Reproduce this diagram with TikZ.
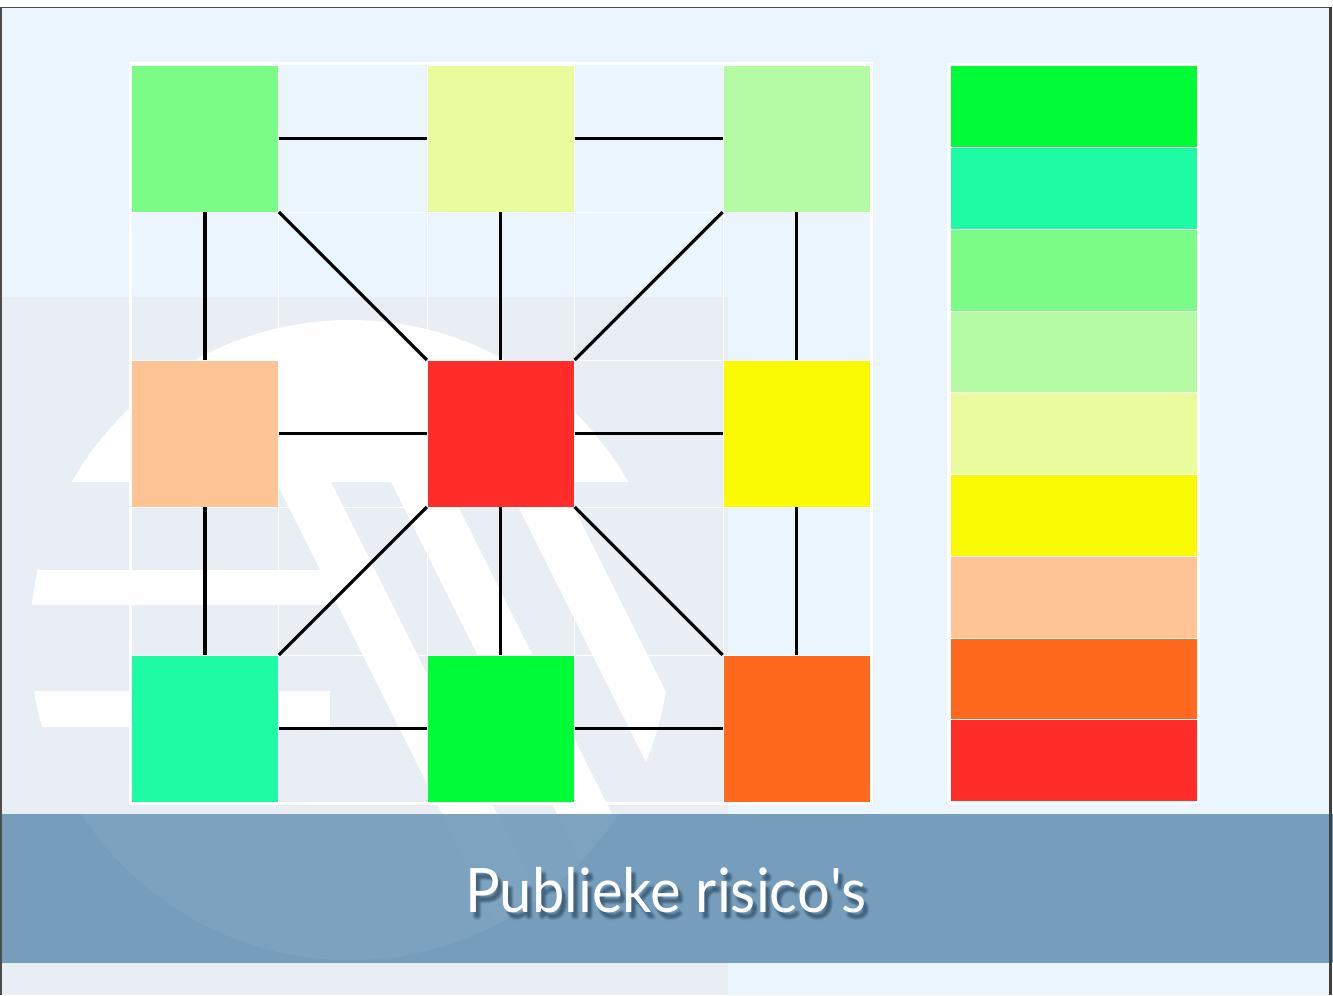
\documentclass[tikz,border=0pt]{standalone}
\usepackage{fontspec}
\setmainfont{Lato}
\definecolor{bgblue}{HTML}{EBF5FE}
\definecolor{graybg}{HTML}{E8EEF3}
\definecolor{titlebar}{HTML}{6E98B8}
\definecolor{shadowc}{HTML}{1E3A52}
\definecolor{cTL}{HTML}{7AFC86}
\definecolor{cTM}{HTML}{E8FC9E}
\definecolor{cTR}{HTML}{B5FBA3}
\definecolor{cML}{HTML}{FFC496}
\definecolor{cC}{HTML}{FF2C2A}
\definecolor{cMR}{HTML}{FAFA05}
\definecolor{cBL}{HTML}{1DFCA4}
\definecolor{cBM}{HTML}{00FC36}
\definecolor{cBR}{HTML}{FF691E}
\newcommand{\titletext}{\scalebox{0.945}[1]{Publieke risico\textquotesingle s}}
\begin{document}
\begin{tikzpicture}[x=0.75pt,y=-0.75pt,
  box/.style={draw=white, line width=0.5pt, inner sep=0pt, minimum width=110.25pt, minimum height=110.25pt},
  link/.style={line width=2.35pt, black},
  gridline/.style={white, line width=0.75pt},
  legendbar/.style={draw=white, line width=0.75pt, inner sep=0pt, minimum width=185.6pt, minimum height=61.3pt},
  titlefont/.style={font=\fontsize{46}{50}\selectfont, inner sep=0pt, anchor=base}]
\useasboundingbox (0,0) rectangle (1333,995);
% slide background
\fill[white] (0,0) rectangle (1333,995);
\fill[bgblue] (1,7) rectangle (1330,995);
\fill[graybg] (2,297) rectangle (728,995);
% faint logo
\begin{scope}
  \clip (350,640) circle[radius=240pt];
  \clip (2,297) rectangle (728,995);
  \fill[white] (0,300) rectangle (730,482);
  \fill[white] (0,570) rectangle (330,605);
  \fill[white] (0,691) rectangle (330,727);
  \foreach \a in {315,430,545} {
    \fill[white] ({\a-39},482) -- ({\a+16},482) -- ({\a+265},980) -- ({\a+210},980) -- cycle;
  }
\end{scope}
% title bar
\fill[titlebar, opacity=0.93] (0,814) rectangle (1333,963);
\begin{scope}
  \clip (0,814) rectangle (1333,963);
  \fill[white, opacity=0.05] (350,640) circle[radius=240pt];
\end{scope}
% frame
\draw[gray!60!black, line width=1pt] (1,995) -- (1,7.5) -- (1330,7.5);
\draw[black!75, line width=1.6pt] (1330.5,7) -- (1330.5,995);
% grid
\foreach \x in {131,278.5,427,574.5,723,870} \draw[gridline] (\x,65) -- (\x,802);
\foreach \y in {65,212,360,507.5,655,802} \draw[gridline] (131,\y) -- (870,\y);
\draw[white, line width=2.25pt] (130.5,64) rectangle (871.5,803.5);
% nodes
\node[box, fill=cTL] (tl) at (205,138.5) {};
\node[box, fill=cTM] (tm) at (500.75,138.5) {};
\node[box, fill=cTR] (tr) at (796.5,138.5) {};
\node[box, fill=cML] (ml) at (205,433.5) {};
\node[box, fill=cC]  (c)  at (500.75,433.5) {};
\node[box, fill=cMR] (mr) at (796.5,433.5) {};
\node[box, fill=cBL] (bl) at (205,728.5) {};
\node[box, fill=cBM] (bm) at (500.75,728.5) {};
\node[box, fill=cBR] (br) at (796.5,728.5) {};
% connectors
\draw[link] (tl) -- (tm);
\draw[link] (tm) -- (tr);
\draw[link] (ml) -- (c);
\draw[link] (c) -- (mr);
\draw[link] (bl) -- (bm);
\draw[link] (bm) -- (br);
\draw[link] (tl) -- (ml);
\draw[link] (ml) -- (bl);
\draw[link] (tm) -- (c);
\draw[link] (c) -- (bm);
\draw[link] (tr) -- (mr);
\draw[link] (mr) -- (br);
\draw[link] (tl) -- (c);
\draw[link] (tr) -- (c);
\draw[link] (bl) -- (c);
\draw[link] (br) -- (c);
% legend
\draw[white, line width=2.25pt] (948.5,64.5) rectangle (1198.8,802.8);
\foreach \col [count=\i] in {cBM,cBL,cTL,cTR,cTM,cMR,cML,cBR,cC} {
  \node[legendbar, fill=\col] (leg\i) at (1073.9,{66+81.72*(\i-0.5)}) {};
}
% title with soft shadow
\foreach \dx/\dy [count=\k] in {4/6,3/5,5/7,2/6,6/6,4/4,4/8,3/7,5/5} {
  \node[titlefont, text=shadowc, opacity=0.09] (shadow\k) at (666+\dx,912+\dy) {\titletext};
}
\node[titlefont, text=white] (title) at (666,912) {\titletext};
\end{tikzpicture}
\end{document}
